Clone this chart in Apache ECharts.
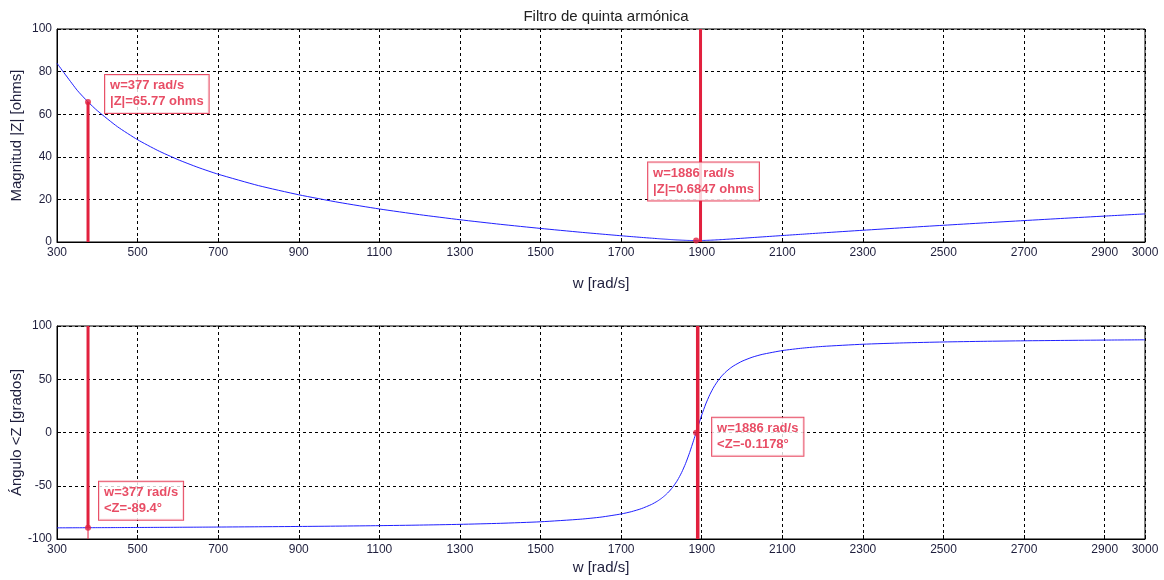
<!DOCTYPE html>
<html>
<head>
<meta charset="utf-8">
<script src="https://cdn.jsdelivr.net/npm/echarts@6/dist/echarts.min.js"></script>
<style>
html,body{margin:0;padding:0;background:#fff;}
#chart{width:1164px;height:580px;}
</style>
</head>
<body>
<div id="chart"></div>
<script>
// ---- data ----
const wValues = [300,350,377,400,450,500,550,600,650,700,800,900,1000,1100,1200,1300,1400,1500,1600,1650,1700,1725,1750,1775,1790,1800,1810,1820,1830,1840,1850,1860,1870,1880,1886,1890,1900,1910,1920,1930,1940,1950,1960,1970,1980,2000,2025,2050,2100,2150,2200,2300,2400,2500,2600,2700,2800,2900,3000];
const magValues = [83.91,71.25,65.77,61.66,54.13,48.02,42.97,38.69,35.02,31.82,26.48,22.17,18.58,15.51,12.83,10.45,8.31,6.37,4.57,3.74,2.93,2.54,2.16,1.80,1.59,1.45,1.32,1.19,1.07,0.96,0.87,0.78,0.72,0.69,0.6847,0.69,0.71,0.77,0.84,0.93,1.03,1.14,1.26,1.38,1.50,1.75,2.07,2.39,3.03,3.66,4.29,5.51,6.70,7.85,8.97,10.06,11.13,12.17,13.19];
const angValues = [-89.53,-89.45,-89.40,-89.36,-89.28,-89.18,-89.09,-88.99,-88.88,-88.77,-88.52,-88.23,-87.89,-87.47,-86.94,-86.24,-85.27,-83.83,-81.38,-79.44,-76.49,-74.37,-71.53,-67.61,-64.45,-61.84,-58.72,-54.95,-50.33,-44.68,-37.64,-29.03,-18.80,-7.25,-0.1178,4.85,16.48,26.81,35.53,42.69,48.47,53.17,57.01,60.16,62.79,66.93,70.65,73.33,76.93,79.23,80.82,82.87,84.13,85.00,85.62,86.10,86.47,86.78,87.02];
const cursorW = [377, 1886];
const cursorMag = [65.77, 0.6847];
const cursorAng = [-89.4, -0.1178];
const magStemW = [377, 1897];
const angStemW = [377, 1890];
const xTicks = {min: 300, max: 3000, interval: 200};
const magTicks = {min: 0, max: 100, interval: 20};
const angTicks = {min: -100, max: 100, interval: 50};
const titleText = 'Filtro de quinta armónica';
const xName = 'w [rad/s]';
const magName = 'Magnitud |Z| [ohms]';
const angName = 'Ángulo <Z [grados]';

// ---- styling ----
const FONT = '"Liberation Sans", Arial, sans-serif';
const RED = '#e2203e';
const BLUE = '#2020ff';
const TXT = '#1e1e3c';

const magData = wValues.map((w, i) => [w, magValues[i]]);
const angData = wValues.map((w, i) => [w, angValues[i]]);

function xAxis(idx, gap) {
  return {
    type: 'value', gridIndex: idx, min: xTicks.min, max: xTicks.max, interval: xTicks.interval,
    name: xName, nameLocation: 'middle', nameGap: gap, nameMoveOverlap: false,
    nameTextStyle: {fontFamily: FONT, fontSize: 15, color: TXT},
    axisLine: {show: true, onZero: false, lineStyle: {color: '#000', width: 1}},
    axisTick: {show: true, inside: true, length: 4, lineStyle: {color: '#000'}},
    axisLabel: {fontFamily: FONT, fontSize: 12, color: TXT, margin: 5, showMinLabel: true, showMaxLabel: true,
      formatter: v => String(v)},
    splitLine: {show: true, lineStyle: {color: '#000', width: 1, type: [3, 3]}}
  };
}
function yAxis(idx, t, name) {
  return {
    type: 'value', gridIndex: idx, min: t.min, max: t.max, interval: t.interval,
    name: name, nameLocation: 'middle', nameGap: 33, nameMoveOverlap: false,
    nameTextStyle: {fontFamily: FONT, fontSize: 15, color: TXT},
    axisLine: {show: true, lineStyle: {color: '#000', width: 1}},
    axisTick: {show: true, inside: true, length: 4, lineStyle: {color: '#000'}},
    axisLabel: {fontFamily: FONT, fontSize: 12, color: TXT, margin: 5, showMinLabel: true, showMaxLabel: true,
      formatter: v => String(v)},
    splitLine: {show: true, lineStyle: {color: '#000', width: 1, type: [3, 3]}}
  };
}
function stem(xi, yi, pts, width) {
  return {type: 'line', xAxisIndex: xi, yAxisIndex: yi, data: pts, symbol: 'none', silent: true,
    lineStyle: {color: RED, width: width}, z: 4, animation: false};
}
const labelBase = {
  show: true, fontFamily: FONT, fontSize: 13, fontWeight: 'bold', color: RED,
  backgroundColor: '#fff', borderColor: RED, borderWidth: 1, padding: [3, 5, 3, 5],
  lineHeight: 16, align: 'left', verticalAlign: 'top'
};
const magLabelPos = [[20, -24], [-45, -75]];
const angLabelPos = [[14, -43], [19, -12]];

const option = {
  backgroundColor: '#fff',
  animation: false,
  title: {text: titleText, left: 601, textAlign: 'center', top: 4,
    textStyle: {fontFamily: FONT, fontSize: 15, fontWeight: 'normal', color: '#222'}},
  grid: [
    {left: 57, top: 29, width: 1088, height: 213, show: true, borderColor: '#000', borderWidth: 1,
      backgroundColor: '#fff', containLabel: false, outerBoundsMode: 'none'},
    {left: 57, top: 326, width: 1088, height: 213, show: true, borderColor: '#000', borderWidth: 1,
      backgroundColor: '#fff', containLabel: false, outerBoundsMode: 'none'}
  ],
  xAxis: [xAxis(0, 34), xAxis(1, 21)],
  yAxis: [yAxis(0, magTicks, magName), yAxis(1, angTicks, angName)],
  series: [
    {type: 'line', xAxisIndex: 0, yAxisIndex: 0, data: magData, symbol: 'none', smooth: 0.2,
      lineStyle: {color: BLUE, width: 1}, z: 3},
    {type: 'line', xAxisIndex: 1, yAxisIndex: 1, data: angData, symbol: 'none', smooth: 0.2,
      lineStyle: {color: BLUE, width: 1}, z: 3},
    stem(0, 0, [[magStemW[0], magTicks.min], [magStemW[0], cursorMag[0]]], 3),
    stem(0, 0, [[magStemW[1], magTicks.min], [magStemW[1], magTicks.max]], 3),
    stem(1, 1, [[angStemW[0], cursorAng[0]], [angStemW[0], angTicks.max]], 3),
    stem(1, 1, [[angStemW[0], angTicks.min], [angStemW[0], cursorAng[0]]], 1),
    stem(1, 1, [[angStemW[1], angTicks.min], [angStemW[1], angTicks.max]], 3.5),
    {type: 'scatter', xAxisIndex: 0, yAxisIndex: 0, symbolSize: 6, z: 6,
      itemStyle: {color: RED},
      data: cursorW.map((w, i) => ({
        value: [w, cursorMag[i]],
        label: Object.assign({}, labelBase, {position: magLabelPos[i],
          formatter: 'w=' + w + ' rad/s\n|Z|=' + cursorMag[i] + ' ohms'})
      }))},
    {type: 'scatter', xAxisIndex: 1, yAxisIndex: 1, symbolSize: 6, z: 6,
      itemStyle: {color: RED},
      data: cursorW.map((w, i) => ({
        value: [w, cursorAng[i]],
        label: Object.assign({}, labelBase, {position: angLabelPos[i],
          formatter: 'w=' + w + ' rad/s\n<Z=' + cursorAng[i] + '°'})
      }))}
  ]
};
const chart = echarts.init(document.getElementById('chart'), null, {renderer: 'canvas'});
chart.setOption(option);
</script>
</body>
</html>
